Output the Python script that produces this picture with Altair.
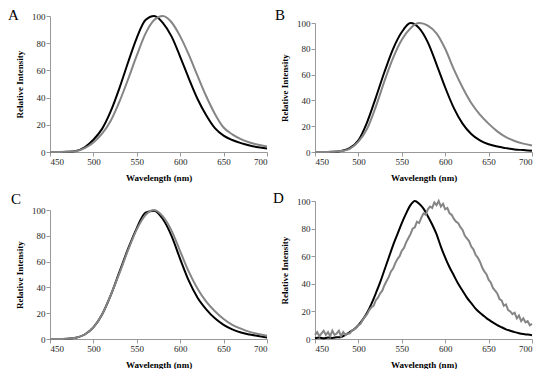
import altair as alt
import pandas as pd

# ---------------- data ----------------
wl10 = [450, 460, 470, 480, 490, 500, 510, 520, 530, 540, 550, 560, 570,
        580, 590, 600, 610, 620, 630, 640, 650, 660, 670, 680, 690, 700]

a_black = [0, 0, 0.2, 0.8, 3.5, 9, 17, 30, 47, 66, 84, 97, 100,
           95, 85, 70, 54, 39, 27, 17.5, 12, 8.8, 6.5, 4.8, 3.5, 2.5]
a_gray = [0, 0, 0.1, 0.5, 2.8, 7, 13.5, 23, 37, 53.5, 71, 87, 97,
          100, 95.4, 85, 71.4, 56, 41, 28, 18, 13, 9.5, 7, 5.3, 4]

b_black = [0, 0, 0.2, 0.8, 3, 9, 23, 42, 62, 80, 93, 100, 96,
           85, 68, 50, 34, 22, 14, 9, 6, 4.2, 3, 2, 1.5, 1]
b_gray = [0, 0, 0.2, 0.7, 2.5, 8, 18, 35, 55, 73, 87, 96, 100,
          98, 92, 80, 64, 50, 38, 29, 22, 16, 11.5, 8.5, 6.5, 5]

c_black = [0, 0, 0.2, 1, 3.5, 9, 19, 34, 52, 70, 86, 98, 99.5,
           93, 80, 62, 45, 32, 23, 16, 11, 7.5, 5, 3.5, 2.3, 1.2]
c_gray = [0, 0, 0.2, 1, 3.5, 9, 19, 34, 51, 69, 85, 96, 100,
          95, 84, 68, 52, 39, 29, 21.5, 15.5, 11, 8, 5.5, 3.8, 2.6]

wl5 = [450, 455, 460, 465, 470, 475, 480, 485, 490, 495, 500, 505, 510,
       515, 520, 525, 530, 535, 540, 545, 550, 555, 560, 565, 570, 575,
       580, 585, 590, 595, 600, 605, 610, 615, 620, 625, 630, 635, 640,
       645, 650, 655, 660, 665, 670, 675, 680, 685, 690, 695, 700]
d_black = [0.5, 1, 0.5, 1, 0.8, 1.2, 1.5, 3, 5, 7, 10, 14, 19,
           25.5, 33, 41, 50, 59, 68, 76, 84, 91, 97, 100, 98, 94.5,
           89, 83, 76, 67, 59, 52, 46, 40, 35, 30, 26, 22, 19,
           16.5, 14, 12, 10, 8.5, 7, 6, 5, 4.2, 3.6, 3.2, 2.8]

d_gray = [3, 5, 2, 4, 6, 3, 5, 2, 6, 3, 4, 6, 2, 5, 3, 4, 4, 6, 7, 8,
          10, 11, 14, 16, 18, 21, 23, 24, 28, 30, 33, 35, 39, 42, 45, 49,
          51, 55, 58, 60, 64, 66, 70, 73, 76, 80, 81, 85, 84, 88, 91, 90,
          94, 96, 95, 99, 97, 100, 96, 98, 94, 95, 91, 90, 87, 85, 84, 81,
          79, 75, 73, 71, 67, 65, 61, 59, 56, 52, 49, 47, 43, 41, 37, 35,
          33, 29, 28, 24, 25, 21, 20, 18, 19, 15, 17, 13, 15, 12, 13, 10, 11]
wl_d_gray = [450 + 2.5 * i for i in range(len(d_gray))]

x_ticks = [450, 500, 550, 600, 650, 700]
y_ticks = [0, 20, 40, 60, 80, 100]

SERIF = "Liberation Serif"
W = 217


def panel(letter, wl_b, black, wl_g, gray, height, top, lx, ly, interp_gray="monotone"):
    x_enc = alt.X("wl:Q",
                  scale=alt.Scale(domain=[450, 700], nice=False, zero=False),
                  axis=alt.Axis(values=x_ticks, title="Wavelength (nm)"))
    y_enc = alt.Y("v:Q",
                  scale=alt.Scale(domain=[0, 100], nice=False, range=[height, top]),
                  axis=alt.Axis(values=y_ticks, title="Relative Intensity"))
    gray_line = alt.Chart(pd.DataFrame({"wl": wl_g, "v": gray})).mark_line(
        strokeWidth=2, interpolate=interp_gray, color="#858585"
    ).encode(x=x_enc, y=y_enc)
    black_line = alt.Chart(pd.DataFrame({"wl": wl_b, "v": black})).mark_line(
        strokeWidth=2, interpolate="monotone", color="#000000"
    ).encode(x=x_enc, y=y_enc)
    txt = alt.Chart(pd.DataFrame({"t": [letter]})).mark_text(
        align="left", baseline="alphabetic", font=SERIF, fontSize=15, color="#000000"
    ).encode(text="t:N", x=alt.value(lx), y=alt.value(ly))
    return alt.layer(black_line, gray_line, txt).properties(width=W, height=height)


pA = panel("A", wl10, a_black, wl10, a_gray, 136, 0, -42, 4)
pB = panel("B", wl10, b_black, wl10, b_gray, 136, 7, -40, 4)
pC = panel("C", wl10, c_black, wl10, c_gray, 138, 9, -39, 3)
pD = panel("D", wl5, d_black, wl_d_gray, d_gray, 138, 0, -42, 2, interp_gray="linear")

chart = alt.concat(pA, pB, pC, pD, columns=2, spacing={"row": 9, "column": 2}).properties(
    padding=0
).configure_axis(
    labelFont=SERIF, labelFontSize=9, labelColor="#262626", labelPadding=1,
    titleFont=SERIF, titleFontSize=9, titleFontWeight="bold", titleColor="#000000",
    titlePadding=7,
    domainColor="#999999", tickColor="#999999", tickSize=4, grid=False,
).configure_view(stroke=None)

chart.save("out.html", embed_options={"renderer": "svg", "actions": False})
